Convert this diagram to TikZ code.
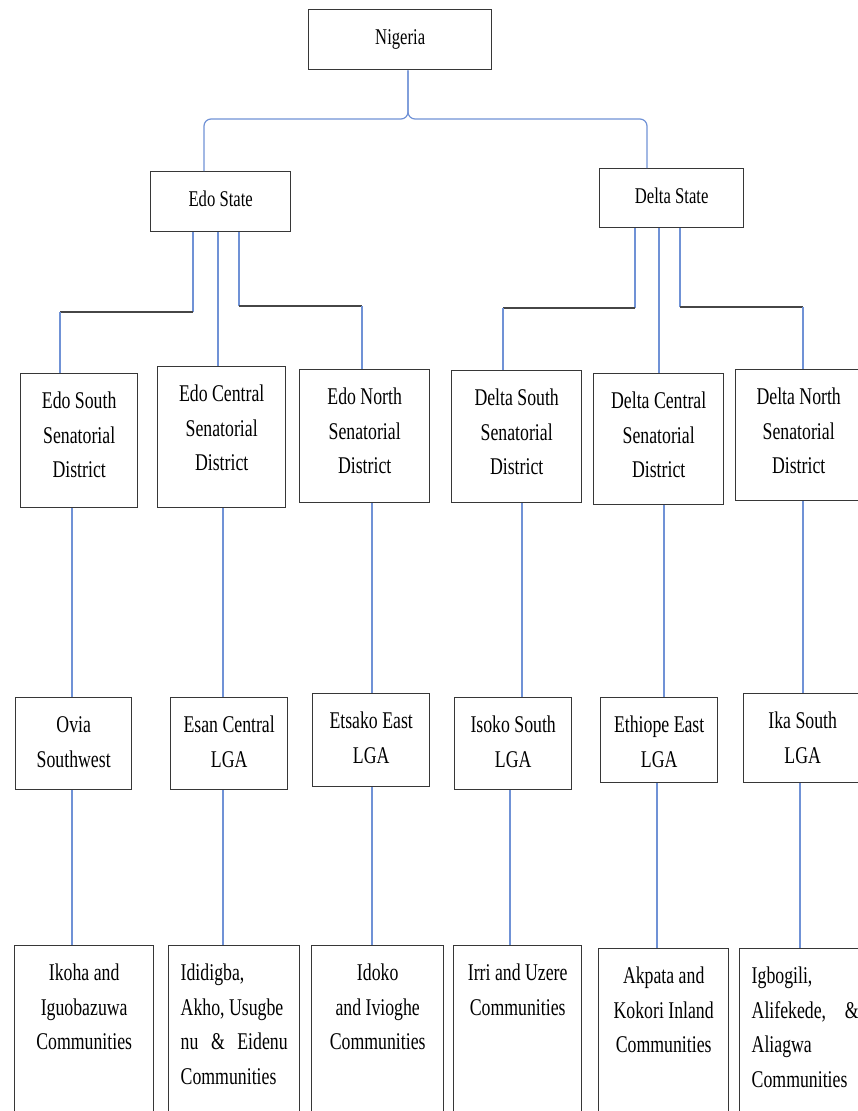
\documentclass[tikz,border=0pt]{standalone}
\usepackage{fontspec}
\newfontfamily\chartfont[FakeStretch=0.74]{Liberation Serif}
\definecolor{linkblue}{RGB}{112,146,214}
\definecolor{bargray}{RGB}{70,70,70}
\definecolor{boxgray}{RGB}{55,55,55}
\newcommand{\unitbox}[3]{\parbox[t][#2][t]{#1}{\centering\rule{0pt}{35pt}#3}}
\tikzset{
	cell/.style={draw=boxgray,line width=1.4pt,inner xsep=8pt,inner ysep=0pt,anchor=north west,font=\chartfont\fontsize{24}{34.5}\selectfont},
	statebox/.style={cell,font=\chartfont\fontsize{22.5}{34}\selectfont},
	link/.style={draw=linkblue,line width=1.2pt},
	bar/.style={draw=bargray,line width=1.4pt}
}
\begin{document}
\begin{tikzpicture}[x=1pt,y=-1pt]
	\useasboundingbox (0,0) rectangle (858,1111);
	\clip (0,0) rectangle (858,1111);
	% country and states
	\node[statebox] (nig) at (308,9) {\unitbox{167pt}{60pt}{Nigeria}};
	\node[statebox] (edo) at (150,171) {\unitbox{124pt}{60pt}{Edo State}};
	\node[statebox] (delta) at (599,168) {\unitbox{128pt}{59pt}{Delta State}};
	% senatorial districts
	\node[cell] (es) at (20,373) {\unitbox{101pt}{134pt}{Edo South\\Senatorial\\District}};
	\node[cell] (ec) at (157,366) {\unitbox{112pt}{141pt}{Edo Central\\Senatorial\\District}};
	\node[cell] (en) at (299,369) {\unitbox{114pt}{133pt}{Edo North\\Senatorial\\District}};
	\node[cell] (ds) at (451,370) {\unitbox{114pt}{132pt}{Delta South\\Senatorial\\District}};
	\node[cell] (dc) at (593,373) {\unitbox{114pt}{131pt}{Delta Central\\Senatorial\\District}};
	\node[cell] (dn) at (735,369) {\unitbox{110pt}{131pt}{Delta North\\Senatorial\\District}};
	% LGAs
	\node[cell] (ovia) at (15,697) {\unitbox{100pt}{92pt}{Ovia\\Southwest}};
	\node[cell] (esan) at (170,697) {\unitbox{101pt}{92pt}{Esan Central\\LGA}};
	\node[cell] (etsako) at (312,693) {\unitbox{101pt}{93pt}{Etsako East\\LGA}};
	\node[cell] (isoko) at (454,697) {\unitbox{101pt}{92pt}{Isoko South\\LGA}};
	\node[cell] (ethiope) at (600,697) {\unitbox{101pt}{85pt}{Ethiope East\\LGA}};
	\node[cell] (ika) at (743,693) {\unitbox{102pt}{89pt}{Ika South\\LGA}};
	% communities
	\node[cell] (ikoha) at (14,945) {\unitbox{123pt}{200pt}{Ikoha and\\Iguobazuwa\\Communities}};
	\node[cell,inner xsep=12pt] (idid) at (168,945) {\unitbox{107pt}{200pt}{\raggedright Ididigba,\\Akho, Usugbe\\\makebox[\linewidth][s]{nu \& Eidenu}\\Communities}};
	\node[cell] (idoko) at (311,945) {\unitbox{116pt}{200pt}{Idoko\\and Ivioghe\\Communities}};
	\node[cell] (irri) at (453,945) {\unitbox{112pt}{200pt}{Irri and Uzere\\Communities}};
	\node[cell] (akpata) at (598,948) {\unitbox{114pt}{200pt}{Akpata and\\Kokori Inland\\Communities}};
	\node[cell,inner xsep=12pt] (igbo) at (739,948) {\unitbox{107pt}{200pt}{\raggedright Igbogili,\\\makebox[\linewidth][s]{Alifekede, \&}\\Aliagwa\\Communities}};
	% Nigeria to states
	\coordinate (fork) at (408,119);
	\coordinate (fl) at (204,119);
	\coordinate (fr) at (647,119);
	\draw[link,rounded corners=7pt] (nig.south -| fork) -- (fork) -- (fl) -- (fl |- edo.north);
	\draw[link,rounded corners=7pt] (nig.south -| fork) -- (fork) -- (fr) -- (fr |- delta.north);
	% Edo to districts
	\coordinate (ea) at (193,312);
	\coordinate (eb) at (60,312);
	\coordinate (ed) at (218,312);
	\coordinate (ee) at (239,306);
	\coordinate (ef) at (362,306);
	\draw[link] (edo.south -| ea) -- (ea);
	\draw[bar] (ea) -- (eb);
	\draw[link] (eb) -- (eb |- es.north);
	\draw[link] (edo.south -| ed) -- (ec.north -| ed);
	\draw[link] (edo.south -| ee) -- (ee);
	\draw[bar] (ee) -- (ef);
	\draw[link] (ef) -- (ef |- en.north);
	% Delta to districts
	\coordinate (da) at (635,308);
	\coordinate (db) at (503,308);
	\coordinate (dd) at (659,308);
	\coordinate (de) at (680,307);
	\coordinate (df) at (803,307);
	\draw[link] (delta.south -| da) -- (da);
	\draw[bar] (da) -- (db);
	\draw[link] (db) -- (db |- ds.north);
	\draw[link] (delta.south -| dd) -- (dc.north -| dd);
	\draw[link] (delta.south -| de) -- (de);
	\draw[bar] (de) -- (df);
	\draw[link] (df) -- (df |- dn.north);
	% districts to LGAs to communities
	\foreach \up/\lo/\x in {es/ovia/72,ec/esan/223,en/etsako/372,ds/isoko/522,dc/ethiope/664,dn/ika/803}{
		\coordinate (t) at (\x,0);
		\draw[link] (\up.south -| t) -- (\lo.north -| t);
	}
	\foreach \up/\lo/\x in {ovia/ikoha/72,esan/idid/223,etsako/idoko/372,isoko/irri/510,ethiope/akpata/657,ika/igbo/800}{
		\coordinate (t) at (\x,0);
		\draw[link] (\up.south -| t) -- (\lo.north -| t);
	}
\end{tikzpicture}
\end{document}
